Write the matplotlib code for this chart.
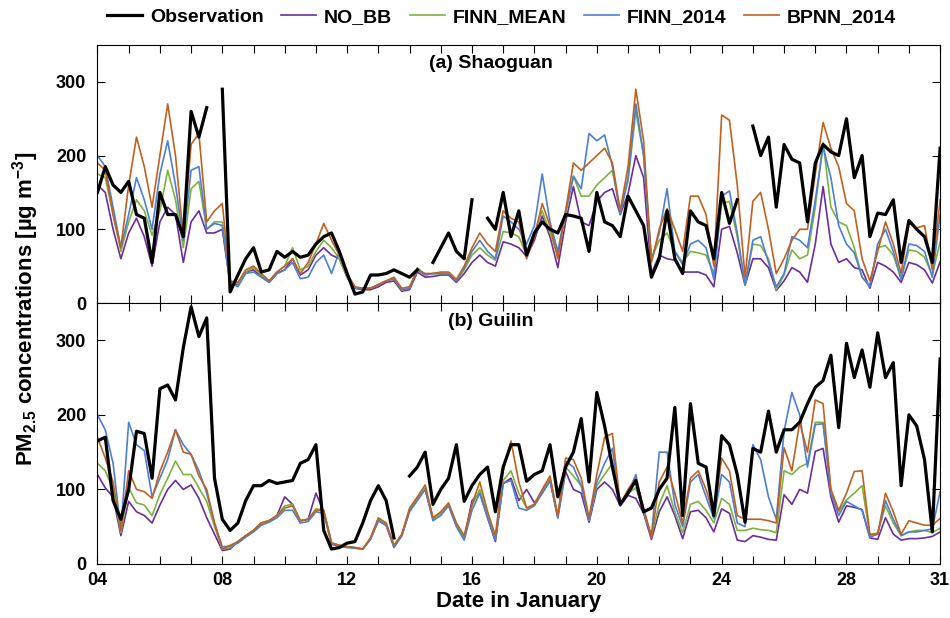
import numpy as np
import matplotlib.pyplot as plt

plt.rcParams['font.family'] = ['Liberation Sans', 'DejaVu Sans']
plt.rcParams['mathtext.fontset'] = 'custom'
plt.rcParams['mathtext.bf'] = 'Liberation Sans:bold'
plt.rcParams['mathtext.rm'] = 'Liberation Sans'
plt.rcParams['mathtext.default'] = 'bf'
nan = np.nan

# 6-hourly samples, days since 4 January 00:00
t = np.arange(109) * 0.25

# (a) Shaoguan
sg_obs = [150, 185, 160, 150, 165, 120, 115, 55, 150, 120, 120, 90, 260, 225, 265, nan, 290, 15,
          38, 60, 75, 42, 45, 70, 62, 70, 62, 65, 80, 90, 95, 70, 40, 12, 15, 38, 38,
          40, 45, 40, 35, 45, nan, 55, 75, 95, 70, 60, 140, nan, 115, 100, 150, 90, 125,
          65, 95, 110, 100, 95, 120, 118, 115, 70, 150, 110, 105, 90, 145, 125, 105, 35, 60,
          125, 60, 40, 125, 110, 105, 60, 150, 108, 140, nan, 240, 200, 225, 130, 215, 195, 190,
          110, 190, 215, 205, 200, 250, 170, 200, 90, 122, 120, 140, 55, 112, 100, 90, 55, 210]
sg_nobb = [160, 150, 100, 60, 95, 115, 90, 50, 110, 130, 120, 55, 110, 125, 95, 95, 100, 25,
           25, 42, 45, 36, 28, 40, 45, 60, 38, 45, 65, 75, 65, 60, 35, 20, 18, 18, 22,
           28, 30, 16, 18, 42, 35, 36, 38, 38, 28, 40, 55, 65, 55, 50, 83, 80, 75,
           63, 85, 118, 90, 48, 110, 158, 110, 105, 138, 150, 155, 120, 148, 200, 170, 40, 65,
           60, 58, 42, 42, 42, 38, 22, 100, 104, 68, 24, 60, 60, 48, 17, 30, 48, 42,
           28, 80, 158, 80, 55, 60, 48, 45, 20, 55, 50, 42, 28, 55, 52, 45, 27, 56]
sg_finn_mean = [175, 170, 120, 70, 110, 140, 125, 92, 125, 180, 140, 75, 155, 165, 100, 110, 110, 28,
                26, 42, 48, 38, 30, 42, 50, 75, 45, 50, 70, 85, 75, 60, 35, 20, 20, 20, 25,
                30, 33, 18, 20, 48, 38, 40, 40, 40, 30, 45, 65, 75, 65, 58, 97, 95, 90,
                65, 95, 125, 95, 65, 120, 172, 145, 145, 160, 170, 180, 125, 165, 260, 200, 60, 85,
                95, 70, 55, 70, 68, 65, 40, 135, 138, 90, 24, 80, 78, 60, 18, 38, 72, 60,
                65, 130, 218, 130, 110, 105, 75, 35, 24, 75, 78, 65, 33, 72, 70, 62, 38, 83]
sg_finn_2014 = [200, 185, 130, 75, 120, 170, 140, 100, 175, 220, 160, 85, 180, 185, 100, 108, 105, 28,
                22, 40, 42, 35, 28, 40, 45, 55, 33, 35, 55, 65, 40, 70, 35, 20, 20, 20, 25,
                30, 33, 18, 20, 45, 38, 40, 40, 40, 30, 48, 70, 85, 70, 60, 118, 110, 100,
                80, 105, 175, 110, 70, 125, 172, 155, 230, 220, 228, 185, 120, 170, 270, 200, 58, 95,
                155, 70, 52, 80, 85, 75, 32, 145, 152, 95, 25, 85, 90, 55, 22, 40, 90, 85,
                75, 140, 212, 170, 105, 80, 68, 35, 22, 80, 100, 70, 32, 80, 78, 70, 35, 120]
sg_bpnn_2014 = [190, 180, 120, 75, 160, 225, 185, 130, 200, 270, 200, 90, 215, 230, 110, 125, 135, 30,
                28, 45, 50, 40, 30, 42, 50, 60, 40, 55, 80, 108, 85, 65, 40, 22, 20, 20, 25,
                30, 35, 20, 22, 45, 40, 40, 42, 42, 32, 50, 75, 95, 80, 70, 125, 115, 110,
                60, 90, 135, 105, 60, 125, 190, 180, 190, 200, 210, 190, 125, 185, 290, 220, 55, 100,
                128, 100, 70, 145, 145, 120, 50, 255, 248, 160, 35, 138, 150, 100, 40, 60, 85, 100,
                100, 175, 245, 210, 185, 135, 125, 60, 30, 70, 110, 80, 40, 108, 102, 105, 45, 140]

# (b) Guilin
gl_obs = [165, 170, 85, 60, 100, 178, 175, 115, 235, 240, 220, 290, 345, 305, 330, 115, 60, 45,
          55, 85, 105, 105, 112, 108, 110, 112, 135, 140, 160, 45, 20, 22, 28, 30, 55, 85, 105,
          85, 35, nan, 118, 130, 150, 80, 100, 115, 160, 84, 105, 120, 130, 70, 130, 160, 160,
          111, 120, 125, 160, 90, 130, 150, 195, 110, 230, 185, 130, 80, 95, 112, 70, 75, 100,
          115, 210, 65, 215, 135, 130, 65, 172, 160, 120, 56, 155, 150, 205, 150, 180, 180, 190,
          215, 237, 246, 280, 183, 296, 250, 287, 237, 310, 250, 270, 105, 200, 185, 140, 43, 275]
gl_nobb = [120, 102, 90, 38, 84, 70, 65, 55, 79, 100, 112, 100, 106, 88, 62, 40, 18, 20,
           30, 38, 45, 55, 58, 65, 90, 80, 58, 60, 95, 70, 28, 25, 23, 22, 20, 34, 58,
           52, 23, 38, 72, 88, 100, 62, 68, 80, 52, 34, 85, 95, 62, 30, 108, 115, 85,
           100, 82, 95, 112, 62, 124, 100, 95, 56, 100, 110, 100, 78, 92, 88, 68, 33, 70,
           90, 65, 34, 70, 72, 62, 43, 74, 68, 32, 30, 38, 36, 33, 32, 93, 80, 100,
           95, 151, 155, 90, 56, 78, 76, 73, 35, 33, 62, 40, 32, 34, 34, 35, 37, 43]
gl_finn_mean = [135, 125, 100, 42, 102, 82, 79, 65, 93, 115, 138, 120, 120, 102, 84, 50, 20, 22,
                30, 38, 45, 55, 58, 65, 78, 80, 58, 60, 74, 72, 28, 25, 23, 22, 20, 35, 60,
                54, 24, 38, 72, 88, 102, 60, 68, 80, 52, 35, 78, 100, 65, 35, 112, 125, 95,
                75, 80, 98, 115, 64, 130, 118, 105, 60, 105, 120, 135, 80, 95, 102, 72, 38, 80,
                105, 70, 42, 80, 84, 72, 55, 88, 80, 45, 45, 48, 46, 45, 42, 125, 120, 130,
                135, 190, 190, 100, 70, 86, 95, 105, 38, 42, 78, 55, 38, 43, 45, 45, 42, 48]
gl_finn_2014 = [200, 180, 135, 45, 190, 160, 152, 90, 115, 140, 180, 160, 147, 125, 95, 55, 23, 24,
                28, 36, 43, 52, 56, 62, 72, 72, 55, 57, 70, 68, 26, 24, 22, 21, 20, 33, 58,
                52, 22, 38, 70, 85, 100, 58, 65, 78, 50, 32, 72, 95, 62, 32, 108, 112, 75,
                72, 78, 95, 112, 62, 138, 130, 105, 58, 110, 135, 155, 78, 95, 120, 70, 38, 150,
                150, 80, 50, 110, 120, 90, 61, 120, 110, 55, 50, 160, 140, 90, 60, 178, 230, 200,
                130, 187, 188, 95, 65, 84, 78, 72, 36, 40, 85, 60, 38, 43, 43, 45, 47, 97]
gl_bpnn_2014 = [170, 142, 110, 45, 125, 100, 97, 88, 124, 150, 180, 150, 147, 118, 100, 55, 20, 25,
                30, 38, 45, 55, 58, 65, 75, 78, 58, 60, 72, 72, 28, 25, 23, 22, 20, 35, 62,
                55, 25, 40, 75, 90, 106, 62, 70, 82, 55, 38, 80, 110, 70, 38, 125, 165, 110,
                75, 80, 100, 118, 65, 142, 140, 115, 62, 120, 170, 175, 80, 100, 115, 75, 35, 110,
                130, 95, 55, 115, 125, 100, 65, 142, 125, 65, 60, 60, 60, 58, 55, 156, 125, 190,
                150, 220, 215, 100, 72, 95, 124, 125, 40, 40, 95, 70, 40, 58, 55, 52, 52, 61]

names = ['Observation', 'NO_BB', 'FINN_MEAN', 'FINN_2014', 'BPNN_2014']
colors = ['black', '#6b2d9c', '#7db23e', '#4d7fd4', '#c0621f']
xtick_labels = {0: '04', 4: '08', 8: '12', 12: '16', 16: '20', 20: '24', 24: '28', 27: '31'}

fig = plt.figure(figsize=(9.5, 6.18), dpi=100)
ax1 = fig.add_axes([0.1026, 0.5097, 0.887, 0.4175])
ax2 = fig.add_axes([0.1026, 0.0874, 0.887, 0.4223])

panels = [(ax1, [sg_obs, sg_nobb, sg_finn_mean, sg_finn_2014, sg_bpnn_2014], '(a) Shaoguan'),
          (ax2, [gl_obs, gl_nobb, gl_finn_mean, gl_finn_2014, gl_bpnn_2014], '(b) Guilin')]

for ax, series, title in panels:
    # models first, observation on top
    for k in [1, 2, 3, 4, 0]:
        lw = 2.3 if k == 0 else 1.2
        ax.plot(t, series[k], color=colors[k], lw=lw, label=names[k], zorder=3 if k == 0 else 2)
    ax.set_xlim(0, 27)
    ax.set_ylim(0, 350)
    ax.set_yticks([0, 100, 200, 300])
    ax.set_xticks(range(28))
    ax.set_xticklabels([xtick_labels.get(i, '') for i in range(28)])
    ax.tick_params(direction='in', top=True, right=True, length=5.5, width=0.8,
                   labelsize=13)
    ax.tick_params(axis='x', pad=6)
    ax.tick_params(axis='y', pad=8)
    for lab in ax.get_xticklabels() + ax.get_yticklabels():
        lab.set_fontweight('bold')
    for sp in ax.spines.values():
        sp.set_linewidth(0.8)
    ax.text(12.6, 325, title, ha='center', va='center', fontsize=14, fontweight='bold')

ax1.tick_params(labelbottom=False)
ax2.set_xlabel('Date in January', fontsize=16, fontweight='bold', labelpad=1)

fig.text(0.027, 0.5, 'PM$_{2.5}$ concentrations [µg m$^{-3}$]', rotation=90,
         ha='center', va='center', fontsize=16, fontweight='bold')

handles, labels = ax1.get_legend_handles_labels()
order = [labels.index(n) for n in names]
fig.legend([handles[i] for i in order], names, loc='upper center', bbox_to_anchor=(0.528, 1.015),
           ncol=5, frameon=False, prop={'weight': 'bold', 'size': 14},
           handlelength=1.8, columnspacing=0.9, handletextpad=0.4)

fig.savefig('out.png', dpi=100)
